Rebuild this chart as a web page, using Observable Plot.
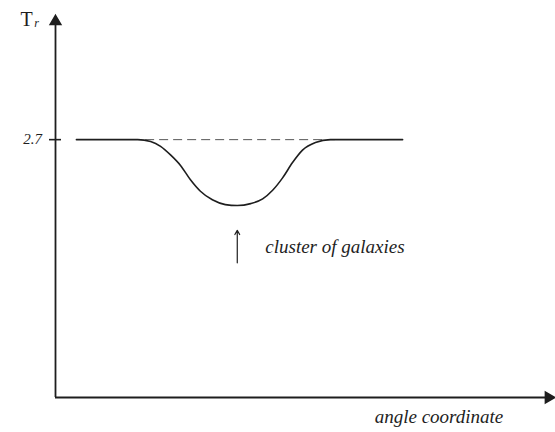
<!DOCTYPE html>
<html>
<head>
<meta charset="utf-8">
<script src="https://cdn.jsdelivr.net/npm/d3@7"></script>
<script src="https://cdn.jsdelivr.net/npm/@observablehq/plot@0.6"></script>
<style>
  html, body { margin: 0; padding: 0; background: #fff; }
</style>
</head>
<body>
<div id="chart"></div>
<script>
// Axis extents (data units)
const xDomain = [0, 100];
const yDomain = [0, 4];
// Reference level
const refLevel = 2.7;
const refLabel = "2.7";
// Measured temperature profile across the sky (angle, T)
const angle = [4.2, 16.5, 19.1, 21.1, 23.1, 25.1, 27.1, 29.1, 31.5, 34.1, 36.5, 39.2, 41.6, 43.6, 45.6, 47.6, 49.6, 52.2, 55.2, 69.7];
const temp  = [2.70, 2.70, 2.68, 2.63, 2.54, 2.43, 2.28, 2.16, 2.07, 2.02, 2.01, 2.03, 2.08, 2.17, 2.30, 2.46, 2.59, 2.67, 2.70, 2.70];
// Dashed undisturbed level across the dip
const dashX = [18.1, 56.2];
// Cluster marker
const clusterX = 36.5;
const clusterArrowY = [1.41, 1.75];
const clusterLabel = "cluster of galaxies";
const xLabel = "angle coordinate";
const xLabelAt = 77;
const yLabel = "T";
const yLabelSub = "r";

const profile = angle.map((a, i) => ({a, t: temp[i]}));
const ink = "#1e1e1e";
const font = "'Liberation Serif', 'DejaVu Serif', serif";

const chart = Plot.plot({
  width: 555,
  height: 432,
  marginLeft: 55,
  marginRight: 2,
  marginTop: 15,
  marginBottom: 35,
  x: {domain: xDomain, axis: null},
  y: {domain: yDomain, axis: null},
  style: {background: "#fff", fontFamily: font},
  marks: [
    // axes
    Plot.ruleX([xDomain[0]], {y1: yDomain[0], y2: yDomain[1] - 0.08, stroke: ink, strokeWidth: 1.8}),
    Plot.ruleY([yDomain[0]], {x1: xDomain[0], x2: xDomain[1] - 0.8, stroke: ink, strokeWidth: 1.8}),
    Plot.dot([{x: xDomain[0], y: yDomain[1]}], {x: "x", y: "y", symbol: "triangle", r: 4, fill: ink, stroke: ink, dy: 6}),
    Plot.dot([{x: xDomain[1], y: yDomain[0]}], {x: "x", y: "y", symbol: "triangle", r: 4, fill: ink, stroke: ink, rotate: 90, dx: -5}),
    // tick at reference level
    Plot.ruleY([refLevel], {x1: xDomain[0] - 1.2, x2: xDomain[0] + 1.2, stroke: ink, strokeWidth: 1.6}),
    Plot.text([refLabel], {x: xDomain[0], y: refLevel, text: d => d, dx: -23, fontSize: 15, fontStyle: "italic", fill: ink}),
    // y label
    Plot.text([yLabel], {x: xDomain[0], y: yDomain[1], text: d => d, dx: -29, dy: 4, fontSize: 20, fill: ink}),
    Plot.text([yLabelSub], {x: xDomain[0], y: yDomain[1], text: d => d, dx: -19, dy: 8, fontSize: 12, fontStyle: "italic", fill: ink}),
    // dashed undisturbed level
    Plot.ruleY([refLevel], {x1: dashX[0], x2: dashX[1], stroke: ink, strokeWidth: 1, strokeDasharray: "9,5", strokeOpacity: 0.75}),
    // profile
    Plot.line(profile, {x: "a", y: "t", curve: "monotone-x", stroke: ink, strokeWidth: 1.6}),
    // cluster arrow
    Plot.arrow([clusterX], {x1: d => d, x2: d => d, y1: clusterArrowY[0], y2: clusterArrowY[1], stroke: ink, strokeWidth: 1.2, headLength: 6}),
    Plot.text([clusterLabel], {x: clusterX, y: (clusterArrowY[0] + clusterArrowY[1]) / 2, text: d => d, textAnchor: "start", dx: 28, fontSize: 19, fontStyle: "italic", fill: ink}),
    // x label
    Plot.text([xLabel], {x: xLabelAt, y: yDomain[0], text: d => d, dy: 19, fontSize: 19, fontStyle: "italic", fill: ink})
  ]
});
document.getElementById("chart").appendChild(chart);
</script>
</body>
</html>
